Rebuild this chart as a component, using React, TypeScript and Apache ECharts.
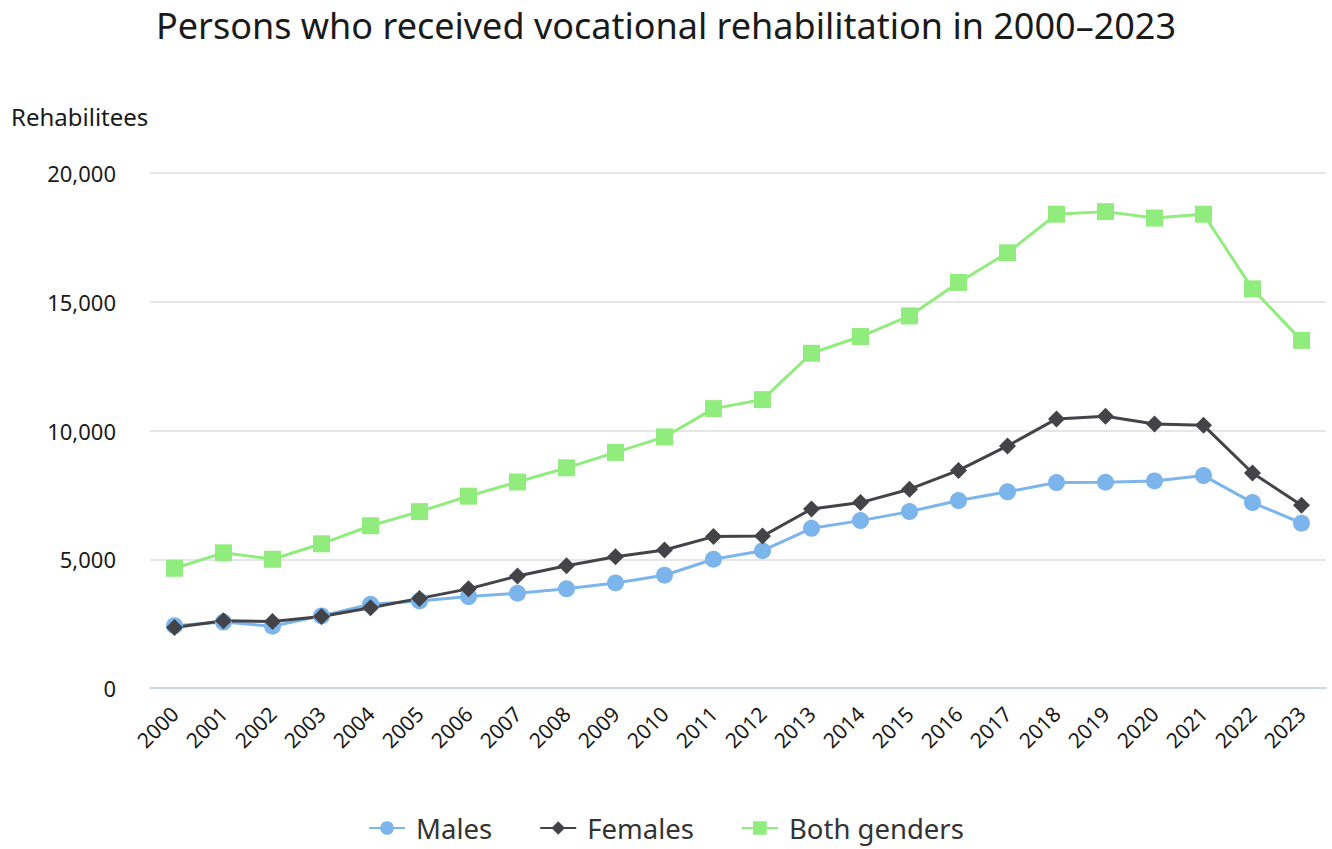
import React, { useEffect, useRef } from "react";
import * as echarts from "echarts";

const years = [
  "2000", "2001", "2002", "2003", "2004", "2005", "2006", "2007", "2008", "2009", "2010", "2011",
  "2012", "2013", "2014", "2015", "2016", "2017", "2018", "2019", "2020", "2021", "2022", "2023",
];
const males = [
  2420, 2560, 2400, 2800, 3250, 3380, 3550, 3680, 3850, 4080, 4380, 5000,
  5330, 6200, 6500, 6850, 7280, 7620, 7980, 7990, 8040, 8250, 7200, 6400,
];
const females = [
  2350, 2610, 2580, 2780, 3120, 3480, 3850, 4350, 4750, 5100, 5360, 5880,
  5900, 6950, 7200, 7720, 8450, 9400, 10450, 10550, 10250, 10200, 8350, 7100,
];
const both = [
  4650, 5250, 5000, 5600, 6300, 6850, 7450, 8000, 8550, 9150, 9750, 10850,
  11200, 13000, 13650, 14450, 15750, 16900, 18400, 18500, 18250, 18400, 15500, 13500,
];
const yTicks = { min: 0, max: 20000, interval: 5000 };

const FONT = "'Noto Sans', 'Open Sans', sans-serif";

export default function App() {
  const ref = useRef<HTMLDivElement>(null);
  useEffect(() => {
    if (!ref.current) return;
    const chart = echarts.init(ref.current, undefined, { renderer: "svg" });
    const mk = (name: string, data: number[], color: string, symbol: string, size: number) => ({
      name,
      type: "line",
      data,
      symbol,
      symbolSize: size,
      showSymbol: true,
      itemStyle: { color },
      lineStyle: { color, width: 3 },
    });
    chart.setOption({
      animation: false,
      backgroundColor: "#ffffff",
      textStyle: { fontFamily: FONT },
      title: {
        text: "Persons who received vocational rehabilitation in 2000\u20132023",
        left: "center",
        top: 2,
        textStyle: { fontFamily: FONT, fontSize: 36, fontWeight: "normal", color: "#1a1a1a" },
      },
      graphic: [
        {
          type: "text",
          left: 11,
          top: 104,
          style: { text: "Rehabilitees", fontFamily: FONT, fontSize: 24, fill: "#1a1a1a" },
        },
      ],
      legend: {
        bottom: 2,
        left: "center",
        itemGap: 47,
        itemWidth: 36,
        itemHeight: 17,
        textStyle: { fontFamily: FONT, fontSize: 27.5, color: "#333333", padding: [0, 0, 0, 6] },
        data: ["Males", "Females", "Both genders"],
      },
      grid: { left: 150, right: 6, top: 173, bottom: 161 },
      xAxis: {
        type: "category",
        data: years,
        boundaryGap: true,
        axisLine: { lineStyle: { color: "#ccd6eb", width: 2 } },
        axisTick: { show: false },
        axisLabel: {
          rotate: 45,
          fontFamily: FONT,
          fontSize: 21,
          color: "#1a1a1a",
          margin: 22,
          interval: 0,
        },
      },
      yAxis: {
        type: "value",
        min: yTicks.min,
        max: yTicks.max,
        interval: yTicks.interval,
        axisLine: { show: false },
        axisTick: { show: false },
        splitLine: { lineStyle: { color: "#e6e6e6", width: 2 } },
        axisLabel: {
          fontFamily: FONT,
          fontSize: 22,
          color: "#1a1a1a",
          margin: 34,
          formatter: (v: number) => v.toLocaleString("en-US"),
        },
      },
      series: [
        mk("Males", males, "#7cb5ec", "circle", 17),
        mk("Females", females, "#434348", "diamond", 17),
        mk("Both genders", both, "#90ed7d", "rect", 17),
      ],
    });
    return () => chart.dispose();
  }, []);
  return <div ref={ref} style={{ width: 1332, height: 849, position: "absolute", left: 0, top: 0 }} />;
}
